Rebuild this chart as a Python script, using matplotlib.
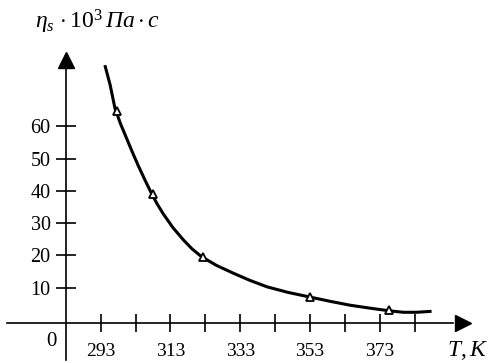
import matplotlib.pyplot as plt

plt.rcParams['font.family'] = ['Liberation Serif', 'DejaVu Serif']
plt.rcParams['mathtext.fontset'] = 'custom'
plt.rcParams['mathtext.rm'] = 'Liberation Serif'
plt.rcParams['mathtext.it'] = 'Liberation Serif:italic'

# traced curve, viscosity vs temperature
curve_T = [294.2, 295.7, 297.1, 298.7, 300.4, 302.1, 303.8, 305.7, 307.6,
           309.2, 310.9, 313.7, 316.7, 319.2, 321.9, 326.2, 331.0, 335.7,
           340.6, 346.5, 353.0, 358.7, 364.4, 370.0, 375.4, 379.7, 383.5,
           387.8]
curve_eta = [78.9, 72.8, 65.5, 60.7, 56.3, 51.9, 47.7, 43.3, 39.1,
             35.9, 32.9, 28.6, 24.8, 22.0, 19.6, 16.9, 14.5, 12.3,
             10.3, 8.6, 7.1, 5.8, 4.6, 3.7, 2.9, 2.4, 2.4,
             2.7]

# measured points
meas_T = [297.6, 307.9, 322.4, 353.0, 375.7]
meas_eta = [64.7, 39.0, 19.6, 7.0, 3.1]

x_ticks = [293, 303, 313, 323, 333, 343, 353, 363, 373, 383]
x_labels = ['293', '', '313', '', '333', '', '353', '', '373', '']
y_ticks = [10, 20, 30, 40, 50, 60]

fig = plt.figure(figsize=(4.88, 3.63), dpi=100)
ax = fig.add_axes([0, 0, 1, 1])
ax.set_xlim(264.15, 403.97)
ax.set_ylim(-13.3, 99.07)
ax.patch.set_alpha(0)

# axes drawn as crossing lines with arrows
ax.spines['top'].set_visible(False)
ax.spines['right'].set_visible(False)
ax.spines['left'].set_position(('data', 283))
ax.spines['bottom'].set_position(('data', -0.9))
ax.spines['left'].set_bounds(-12.4, 80)
ax.spines['bottom'].set_bounds(266.2, 394)
for s in ['left', 'bottom']:
    ax.spines[s].set_linewidth(1.2)

# arrowheads
ax.plot([396.8], [-0.9], marker='>', ms=12, color='k', clip_on=False)
ax.plot([283], [80.5], marker='^', ms=12, color='k', clip_on=False)

ax.set_xticks(x_ticks)
ax.set_xticklabels(x_labels)
ax.set_yticks(y_ticks)
ax.tick_params(axis='x', direction='inout', length=13, width=1.2,
               labelsize=14, pad=8)
ax.tick_params(axis='y', direction='inout', length=14, width=1.2,
               labelsize=14.5, pad=4)

ax.plot(curve_T, curve_eta, color='k', lw=2.2, solid_capstyle='butt',
        solid_joinstyle='round')
ax.plot(meas_T, meas_eta, ls='none', marker='^', ms=6, mfc='white',
        mec='k', mew=1.3)

ax.text(280.3, -3.8, '0', fontsize=15, ha='right', va='top')
ax.text(404, -9.5, r'$T,K$', fontsize=17, ha='right', va='center')
ax.text(274.3, 92.2, r'$\eta_s\,\cdot 10^3\,\mathit{Па}\cdot \mathit{с}$',
        fontsize=17, ha='left', va='center')

fig.savefig('out.png', dpi=100)
